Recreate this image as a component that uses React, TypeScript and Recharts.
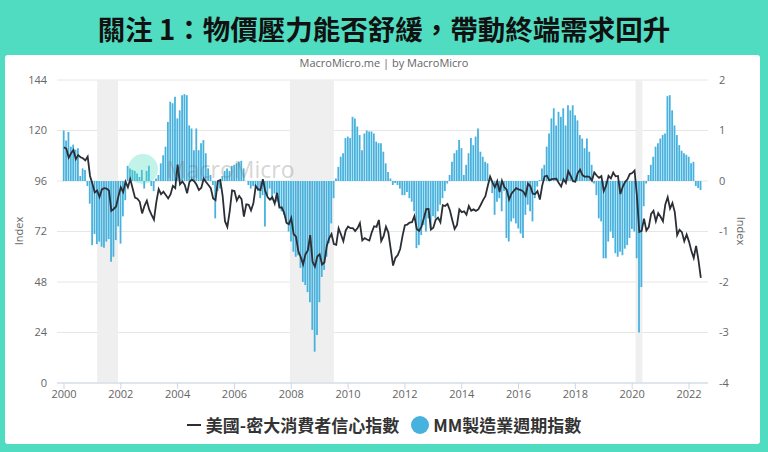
import React from 'react'
import { ComposedChart, Bar, Line, XAxis, YAxis, CartesianGrid, ReferenceArea } from 'recharts'

// monthly, Jan 2000 .. Jun 2022
const sentimentIndex = [
  112.0, 111.3, 107.1, 109.2, 110.7, 106.4, 108.3, 107.3, 106.8, 105.8, 107.6, 98.4,
  94.7, 90.6, 91.5, 88.4, 92.0, 92.6, 92.4, 91.5, 81.8, 82.7, 83.9, 88.8,
  93.0, 90.7, 95.7, 93.0, 96.9, 92.4, 88.1, 87.6, 86.1, 80.6, 84.2, 86.7,
  82.4, 79.9, 77.6, 86.0, 92.1, 89.7, 90.9, 89.3, 87.7, 89.6, 93.7, 92.6,
  103.8, 94.4, 95.8, 94.2, 90.2, 95.6, 96.7, 95.9, 94.2, 91.7, 92.8, 97.1,
  95.5, 94.1, 92.6, 87.7, 86.9, 96.0, 96.5, 89.1, 76.9, 74.2, 81.6, 91.5,
  91.2, 86.7, 88.9, 87.4, 79.1, 84.9, 84.7, 82.0, 85.4, 93.6, 92.1, 91.7,
  96.9, 91.3, 88.4, 87.1, 88.3, 85.3, 90.4, 83.4, 83.4, 80.9, 76.1, 75.5,
  78.4, 70.8, 69.5, 62.6, 59.8, 56.4, 61.2, 63.0, 70.3, 57.6, 55.3, 60.1,
  61.2, 56.3, 57.3, 65.1, 68.7, 70.8, 66.0, 65.7, 73.5, 70.6, 67.4, 72.5,
  74.4, 73.6, 73.6, 72.2, 73.6, 76.0, 67.8, 68.9, 68.2, 67.7, 71.6, 74.5,
  74.2, 77.5, 67.5, 69.8, 74.3, 71.5, 63.7, 55.8, 59.5, 60.8, 63.7, 69.9,
  75.0, 75.3, 76.2, 76.4, 79.3, 73.2, 72.3, 74.3, 78.3, 82.6, 82.7, 72.9,
  73.8, 77.6, 78.6, 76.4, 84.5, 84.1, 85.1, 82.1, 77.5, 73.2, 75.1, 82.5,
  81.2, 81.6, 80.0, 84.1, 81.9, 82.5, 81.8, 82.5, 84.6, 86.9, 88.8, 93.6,
  98.1, 95.4, 93.0, 95.9, 90.7, 96.1, 93.1, 91.9, 87.2, 90.0, 91.3, 92.6,
  92.0, 91.7, 91.0, 89.0, 94.7, 93.5, 90.0, 89.8, 91.2, 87.2, 93.8, 98.2,
  98.5, 96.3, 96.9, 97.0, 97.1, 95.0, 93.4, 96.8, 95.1, 100.7, 98.5, 95.9,
  95.7, 99.7, 101.4, 98.8, 98.0, 98.2, 97.9, 96.2, 100.1, 98.6, 97.5, 98.3,
  91.2, 93.8, 98.4, 97.2, 100.0, 98.2, 98.4, 89.8, 93.2, 95.5, 96.8, 99.3,
  99.8, 101.0, 89.1, 71.8, 72.3, 78.1, 72.5, 74.1, 80.4, 81.8, 76.9, 80.7,
  79.0, 76.8, 84.9, 88.3, 82.9, 85.5, 81.2, 70.3, 72.8, 71.7, 67.4, 70.6,
  67.2, 62.8, 59.4, 65.2, 58.4, 50.0,
]

const mmCycleIndex = [
  1.0, 0.8, 0.97, 0.68, 0.72, 0.62, 0.65, 0.1, 0.25, 0.22, -0.1, -0.45,
  -1.27, -1.05, -1.25, -1.2, -1.3, -1.32, -1.2, -1.15, -1.6, -1.5, -1.17, -0.9,
  -1.24, -0.7, -0.38, 0.3, 0.25, 0.22, 0.2, 0.15, 0.08, 0.22, -0.15, 0.2,
  0.3, -0.1, -0.2, 0.05, 0.12, 0.35, 0.51, 0.68, 1.17, 1.57, 1.54, 1.67,
  1.24, 1.4, 1.7, 1.72, 1.7, 1.1, 1.04, 0.61, 1.04, 0.61, 0.75, 0.81,
  0.55, 0.25, 0.12, -0.08, -0.74, -0.2, -0.15, 0.1, 0.2, 0.25, 0.2, 0.3,
  0.32, 0.35, 0.38, 0.4, 0.25, 0.0, -0.08, -0.15, -0.1, -0.12, -0.2, -0.34,
  -0.28, -0.9, -0.28, -0.15, -0.38, -0.25, -0.41, -0.5, -0.6, -0.67, -0.8, -1.0,
  -1.2, -1.4, -1.5, -1.47, -1.72, -2.0, -2.06, -2.2, -2.4, -2.95, -3.38, -3.05,
  -2.4, -1.9, -1.76, -1.5, -1.23, -0.84, -0.34, 0.05, 0.28, 0.48, 0.55, 0.85,
  0.88, 0.85, 1.27, 1.24, 1.08, 0.91, 0.61, 0.94, 1.0, 0.98, 0.98, 0.94,
  0.78, 0.75, 0.75, 0.58, 0.35, 0.18, 0.05, -0.08, -0.04, -0.08, -0.15, -0.28,
  -0.28, -0.22, -0.34, -0.41, -0.6, -1.33, -1.27, -1.07, -0.87, -1.0, -0.74, -0.94,
  -0.7, -0.74, -0.6, -0.47, -0.34, -0.2, -0.05, 0.12, 0.38, 0.55, 0.61, 0.81,
  0.65, 0.12, 0.32, 0.55, 0.85, 0.71, 0.88, 1.04, 0.58, 0.48, 0.38, 0.35,
  0.02, -0.24, -0.67, -0.41, -0.34, -0.6, -0.2, -1.13, -1.2, -0.8, -0.74, -0.84,
  -0.94, -1.04, -1.13, -0.67, -0.47, -0.6, -0.8, -0.34, -0.11, 0.02, 0.25, 0.32,
  0.68, 0.94, 1.24, 1.44, 1.1, 1.37, 1.27, 1.44, 1.1, 1.5, 1.4, 1.5,
  1.3, 1.2, 0.91, 0.84, 0.65, 0.84, 0.58, 0.32, -0.05, -0.28, -0.74, -0.8,
  -1.53, -1.53, -1.2, -1.0, -1.13, -1.43, -1.5, -1.4, -1.47, -1.34, -1.27, -1.13,
  -0.95, -1.0, -1.53, -3.0, -2.1, -0.5, -0.05, 0.12, 0.32, 0.48, 0.68, 0.75,
  0.84, 0.91, 0.94, 1.68, 1.7, 1.4, 1.1, 0.91, 0.71, 0.6, 0.55, 0.52,
  0.48, 0.35, 0.38, -0.1, -0.14, -0.18,
]

const yearTicks = [2000, 2002, 2004, 2006, 2008, 2010, 2012, 2014, 2016, 2018, 2020, 2022]
const leftTicks = [0, 24, 48, 72, 96, 120, 144]
const rightTicks = [-4, -3, -2, -1, 0, 1, 2]
const recessions = [
  [2001.17, 2001.9],
  [2007.95, 2009.5],
  [2020.12, 2020.36],
]

const data = sentimentIndex.map((v, i) => ({
  t: 2000 + i / 12,
  sentiment: v,
  cycle: mmCycleIndex[i],
}))

const BLUE = '#47b2de'
const LINE = '#2b2e35'
const axisFont = { fontSize: 11, fill: '#666', fontFamily: '"Open Sans", sans-serif' }

export default function App() {
  return (
    <div style={{ position: 'fixed', left: 0, top: 0, width: 768, height: 452, background: '#50dcc0', overflow: 'hidden' }}>
      <div
        style={{
          position: 'absolute', left: 0, top: 8, width: 768, textAlign: 'center',
          fontFamily: '"Noto Sans CJK TC", sans-serif', fontWeight: 700, fontSize: 27.5,
          color: '#111', lineHeight: '40px',
        }}
      >
        關注 1：物價壓力能否舒緩，帶動終端需求回升
      </div>
      <div style={{ position: 'absolute', left: 5, top: 55, width: 755, height: 389, background: '#fff', borderRadius: 3 }} />
      <div
        style={{
          position: 'absolute', left: 0, top: 55, width: 768, textAlign: 'center',
          fontFamily: '"Open Sans", sans-serif', fontSize: 11, color: '#666', lineHeight: '16px',
        }}
      >
        MacroMicro.me | by MacroMicro
      </div>

      <div style={{ position: 'absolute', left: 0, top: 0 }}>
        <ComposedChart width={768} height={452} data={data} margin={{ top: 80, right: 10, bottom: 30, left: 10 }}>
          {recessions.map(([a, b]) => (
            <ReferenceArea key={a} x1={a} x2={b} y1={0} y2={144} yAxisId="left" fill="#efefef" fillOpacity={1} stroke="none" />
          ))}
          <CartesianGrid vertical={false} yAxisId="left" stroke="#e6e6e6" />
          <XAxis
            type="number"
            dataKey="t"
            domain={[1999.754, 2022.669]}
            ticks={yearTicks}
            interval={0}
            allowDataOverflow
            height={39}
            tickSize={6}
            tickMargin={1}
            stroke="#ccd6eb"
            tick={axisFont}
          />
          <YAxis
            yAxisId="left"
            domain={[0, 144]}
            ticks={leftTicks}
            width={47}
            axisLine={false}
            tickLine={false}
            tickMargin={4}
            tick={axisFont}
          />
          <YAxis
            yAxisId="right"
            orientation="right"
            domain={[-4, 2]}
            ticks={rightTicks}
            width={50}
            axisLine={false}
            tickLine={false}
            tickMargin={5}
            tick={axisFont}
          />
          <Bar dataKey="cycle" yAxisId="right" fill={BLUE} barSize={1.8} isAnimationActive={false} />
          <Line
            dataKey="sentiment"
            yAxisId="left"
            type="linear"
            stroke={LINE}
            strokeWidth={1.8}
            dot={false}
            isAnimationActive={false}
          />
        </ComposedChart>
      </div>

      {/* watermark */}
      <div style={{ position: 'absolute', left: 128, top: 153, display: 'flex', alignItems: 'center', pointerEvents: 'none' }}>
        <div style={{ width: 30, height: 30, borderRadius: 15, background: 'rgba(80,220,192,0.35)' }} />
        <span style={{ marginLeft: 8, fontFamily: '"Open Sans", sans-serif', fontSize: 23, color: 'rgba(110,110,110,0.3)' }}>
          MacroMicro
        </span>
      </div>

      <div style={{ position: 'absolute', left: 18, top: 231, transform: 'translate(-50%, -50%) rotate(-90deg)', fontFamily: '"Open Sans", sans-serif', fontSize: 11, color: '#666' }}>
        Index
      </div>
      <div style={{ position: 'absolute', left: 741, top: 231, transform: 'translate(-50%, -50%) rotate(90deg)', fontFamily: '"Open Sans", sans-serif', fontSize: 11, color: '#666' }}>
        Index
      </div>

      <div
        style={{
          position: 'absolute', left: 0, top: 410, width: 768, display: 'flex', justifyContent: 'center', alignItems: 'center',
          fontFamily: '"Noto Sans CJK TC", sans-serif', fontWeight: 700, fontSize: 17, color: '#333', lineHeight: '30px',
        }}
      >
        <span style={{ display: 'inline-block', width: 14, height: 2.5, background: LINE, marginRight: 5 }} />
        <span>美國-密大消費者信心指數</span>
        <span style={{ display: 'inline-block', width: 18, height: 18, borderRadius: 9, background: BLUE, marginLeft: 12, marginRight: 4 }} />
        <span>MM製造業週期指數</span>
      </div>
    </div>
  )
}
